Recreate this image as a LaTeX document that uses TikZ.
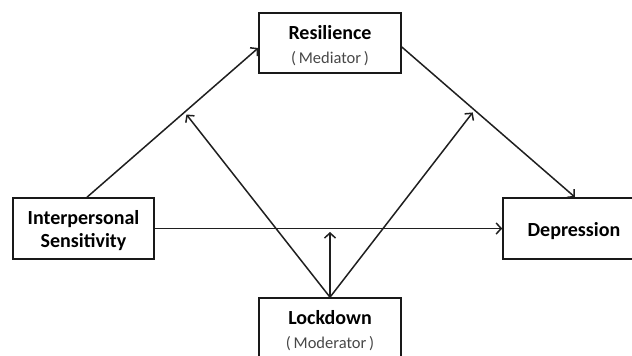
\documentclass[tikz,border=0pt]{standalone}
\usepackage{fontspec}
\setmainfont{Carlito}
\usetikzlibrary{arrows.meta,calc}
\newcommand{\subtxt}[1]{{\fontsize{16.5}{20}\selectfont\mdseries\color{black!72}#1}}
\newcommand{\lowertxt}[2]{\raisebox{#1}[\height][\depth]{\begin{tabular}{@{}c@{}}#2\end{tabular}}}
\begin{document}
\begin{tikzpicture}[x=1pt,y=-1pt,
  box/.style={draw=black!90,line width=1.6pt,rectangle,minimum width=142pt,minimum height=60pt,inner sep=0pt,align=center,font=\fontsize{20}{24}\selectfont\bfseries},
  conn/.style={draw=black!88,line width=1.5pt,-{Straight Barb[length=5pt,width=11pt,line width=1.5pt]}}]
\useasboundingbox (0,0) rectangle (632,356);
\node[box] (res) at (330,43) {\lowertxt{-4pt}{Resilience\\[0pt]\subtxt{(\,Mediator\,)}}};
\node[box,minimum width=141pt,minimum height=61pt] (isn) at (83.5,228.5) {\lowertxt{-3pt}{Interpersonal\\[-1pt]Sensitivity}};
\node[box,minimum height=61pt] (dep) at (574,228.5) {\lowertxt{-3pt}{Depression}};
\node[box] (lock) at (330,328) {\lowertxt{-4pt}{Lockdown\\[0pt]\subtxt{(\,Moderator\,)}}};
\coordinate (a1) at ($(isn.north)+(3.5,0)$);
\coordinate (a2) at ($(res.west)+(0,5)$);
\coordinate (b1) at ($(res.east)+(0,4)$);
\coordinate (b2) at ($(dep.north)+(1,0)$);
\draw[conn] (a1) -- (a2);
\draw[conn] (b1) -- (b2);
\draw[conn] (isn.east) -- (dep.west);
\coordinate (m1) at ($(a1)!0.57!(a2)$);
\coordinate (m2) at ($(b1)!0.42!(b2)$);
\coordinate (m3) at (330,229);
\draw[conn,shorten >=3pt] (lock.north) -- (m1);
\draw[conn,shorten >=3pt] (lock.north) -- (m2);
\draw[conn,shorten >=3pt] (lock.north) -- (m3);
\end{tikzpicture}
\end{document}
